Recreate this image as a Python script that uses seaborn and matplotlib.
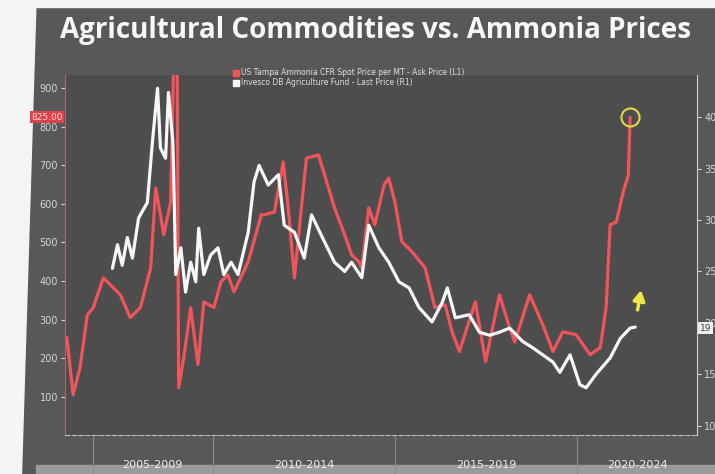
import matplotlib
matplotlib.use("Agg")
import matplotlib.pyplot as plt
import matplotlib.transforms as mtransforms
from matplotlib.patches import Rectangle, Polygon
import seaborn as sns

# US Tampa ammonia (left axis, USD/MT)
amm_years = [2005.99, 2006.16, 2006.35, 2006.55, 2006.71, 2006.99, 2007.27, 2007.46,
             2007.73, 2008.01, 2008.29, 2008.43, 2008.56, 2008.65, 2008.84, 2008.92,
             2009.02, 2009.06, 2009.20, 2009.39, 2009.59, 2009.75, 2010.03, 2010.22,
             2010.41, 2010.58, 2010.97, 2011.33, 2011.41, 2011.69, 2011.93, 2012.07,
             2012.24, 2012.43, 2012.57, 2012.90, 2013.07, 2013.34, 2013.62, 2013.81,
             2014.01, 2014.09, 2014.28, 2014.45, 2014.70, 2014.83, 2015.00, 2015.19,
             2015.47, 2015.83, 2016.10, 2016.38, 2016.57, 2016.77, 2017.21, 2017.49,
             2017.87, 2018.15, 2018.29, 2018.70, 2019.06, 2019.34, 2019.61, 2019.97,
             2020.36, 2020.64, 2020.80, 2020.91, 2021.08, 2021.27, 2021.41, 2021.46]
amm_price = [253, 105, 175, 312, 330, 408, 382, 364,
             305, 331, 434, 641, 572, 520, 605, 960,
             960, 123, 201, 331, 183, 346, 331, 398,
             416, 372, 450, 572, 572, 579, 709, 590,
             408, 590, 719, 727, 675, 590, 520, 468,
             450, 434, 590, 546, 649, 667, 605, 502,
             476, 434, 331, 338, 268, 217, 346, 191,
             364, 279, 242, 364, 287, 217, 268, 261,
             209, 227, 331, 546, 553, 631, 675, 825]

# Invesco DB Agriculture Fund (right axis, USD)
dba_years = [2007.24, 2007.38, 2007.51, 2007.65, 2007.79, 2007.96, 2008.20, 2008.34,
             2008.48, 2008.56, 2008.70, 2008.78, 2008.90, 2008.92, 2008.98, 2009.12,
             2009.25, 2009.39, 2009.53, 2009.61, 2009.75, 2009.94, 2010.14, 2010.30,
             2010.50, 2010.69, 2010.97, 2011.13, 2011.27, 2011.52, 2011.80, 2011.96,
             2012.24, 2012.51, 2012.71, 2012.98, 2013.34, 2013.62, 2013.81, 2014.09,
             2014.28, 2014.56, 2014.83, 2015.11, 2015.39, 2015.66, 2016.02, 2016.30,
             2016.44, 2016.66, 2017.04, 2017.32, 2017.60, 2017.87, 2018.15, 2018.51,
             2018.78, 2019.06, 2019.34, 2019.53, 2019.81, 2020.08, 2020.25, 2020.52,
             2020.91, 2021.19, 2021.46, 2021.60]
dba_price = [25.3, 27.6, 25.6, 28.3, 26.3, 30.2, 31.7, 37.6,
             42.8, 37.0, 36.0, 42.4, 37.6, 35.0, 24.7, 27.3,
             23.0, 25.9, 24.0, 29.2, 24.7, 26.6, 27.3, 24.7,
             25.9, 24.7, 28.8, 33.7, 35.3, 33.4, 34.4, 29.5,
             28.8, 26.3, 30.5, 28.5, 25.9, 25.0, 25.9, 24.4,
             29.5, 27.3, 25.9, 24.0, 23.4, 21.5, 20.1, 22.0,
             23.4, 20.5, 20.8, 19.1, 18.8, 19.1, 19.5, 18.2,
             17.6, 16.9, 16.2, 15.2, 16.9, 14.0, 13.7, 15.0,
             16.6, 18.5, 19.5, 19.6]

period_edges = [2006.7, 2010, 2015, 2020]
period_labels = ["2005-2009", "2010-2014", "2015-2019", "2020-2024"]
left_ticks = [100, 200, 300, 400, 500, 600, 700, 800, 900]
right_ticks = [10, 15, 20, 25, 30, 35, 40]

RED = "#f2545b"
TXT = "#d6d6d6"

sns.set_style("dark")
plt.rcParams["font.family"] = ["DejaVu Sans"]

fig = plt.figure(figsize=(7.15, 4.74), dpi=100, facecolor="#585858")
ax = fig.add_axes([0.091, 0.082, 0.884, 0.76])
ax.set_facecolor("#4d4d4d")

# photo edges
fig.patches.append(Polygon([[0, 0], [0.03, 0], [0.05, 0.98], [0.05, 1], [0, 1]],
                           closed=True, transform=fig.transFigure, color="#f4f4f4", zorder=-1))
fig.patches.append(Rectangle((0.05, 0.0), 0.95, 0.018, transform=fig.transFigure,
                             color="#9a9a9a", zorder=-1))
fig.patches.append(Rectangle((0, 0.985), 1, 0.015, transform=fig.transFigure,
                             color="#f4f4f4", zorder=-1))

sns.lineplot(x=amm_years, y=amm_price, ax=ax, color=RED, lw=2.3, zorder=3)
ax.set_xlim(2005.94, 2023.3)
ax.set_ylim(0, 935)

ax2 = ax.twinx()
sns.lineplot(x=dba_years, y=dba_price, ax=ax2, color="#f7f7f7", lw=2.3, zorder=2)
ax2.set_ylim(9.1, 44.1)

ax.set_xlabel("")
ax.set_ylabel("")
ax2.set_ylabel("")
ax2.grid(False)
ax.grid(False)

# left axis
ax.set_yticks(left_ticks)
ax.tick_params(axis="y", left=True, colors=TXT, labelsize=7, length=3, width=0.8, pad=2)
ax.spines["left"].set_visible(True)
ax.spines["left"].set_color("#a86a6e")
ax.spines["left"].set_linewidth(0.8)
for s in ["top", "right", "bottom"]:
    ax.spines[s].set_visible(False)

# right axis
ax2.set_yticks(right_ticks)
ax2.tick_params(axis="y", right=True, colors=TXT, labelsize=7, length=3, width=0.8, pad=2)
for s in ["top", "left", "bottom"]:
    ax2.spines[s].set_visible(False)
ax2.spines["right"].set_visible(True)
ax2.spines["right"].set_color("#cfcfcf")
ax2.spines["right"].set_linewidth(0.8)

# bottom axis: period separators and centred labels
ax.spines["bottom"].set_visible(True)
ax.spines["bottom"].set_color("#bdbdbd")
ax.spines["bottom"].set_linestyle((0, (4, 2)))
ax.set_xticks(period_edges)
ax.set_xticklabels([])
ax.tick_params(axis="x", which="major", bottom=True, length=40, width=0.8,
               color="#8a8a8a", direction="out")
edges = period_edges + [ax.get_xlim()[1]]
centers = [(a + b) / 2 for a, b in zip(edges[:-1], edges[1:])]
ax.set_xticks(centers, minor=True)
ax.set_xticklabels(period_labels, minor=True)
ax.tick_params(axis="x", which="minor", bottom=True, length=0, pad=18, labelsize=8,
               labelcolor="#ededed")

# last value tags
ax.text(-0.004, amm_price[-1], f"{amm_price[-1]:.2f}",
        transform=mtransforms.blended_transform_factory(ax.transAxes, ax.transData),
        ha="right", va="center", fontsize=6.5, color="#ffd6d6",
        bbox=dict(boxstyle="square,pad=0.15", fc="#e0424b", ec="none"), zorder=5)
ax2.text(1.004, 19.5, "19",
         transform=mtransforms.blended_transform_factory(ax2.transAxes, ax2.transData),
         ha="left", va="center", fontsize=6.5, color="#444444",
         bbox=dict(boxstyle="square,pad=0.15", fc="#eeeeee", ec="none"), zorder=5, clip_on=False)

# highlight circle and arrow
ax.plot([amm_years[-1]], [amm_price[-1]], marker="o", ms=13, mfc="none", mec="#e6d64a",
        mew=1.5, zorder=6)
ax.annotate("", xy=(0.912, 0.41), xytext=(0.905, 0.34), xycoords="axes fraction",
            arrowprops=dict(arrowstyle="-|>,head_width=0.35,head_length=0.6",
                            color="#f0e64a", lw=2.5))

# legend
ax.scatter([], [], marker="s", s=14, color=RED,
           label="US Tampa Ammonia CFR Spot Price per MT - Ask Price (L1)")
ax.scatter([], [], marker="s", s=14, color="#f4f4f4",
           label="Invesco DB Agriculture Fund - Last Price (R1)")
leg = ax.legend(loc="upper left", bbox_to_anchor=(0.26, 1.03), frameon=False, fontsize=5.5,
                handletextpad=0.2, labelspacing=0.15, borderpad=0, handlelength=0.8)
for t in leg.get_texts():
    t.set_color("#dddddd")

fig.text(0.525, 0.935, "Agricultural Commodities vs. Ammonia Prices", ha="center",
         va="center", fontsize=20, fontweight="bold", color="#f8f8f8",
         family=["Open Sans", "DejaVu Sans"])

fig.savefig("out.png", dpi=100, facecolor=fig.get_facecolor())
